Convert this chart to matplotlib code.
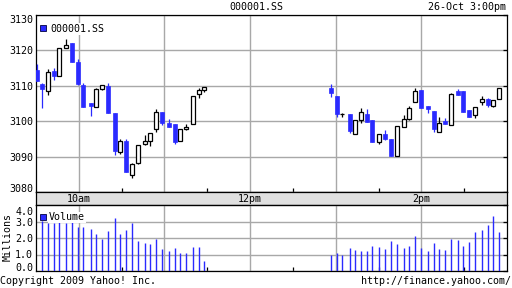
import numpy as np
import matplotlib
matplotlib.use("Agg")
import matplotlib.pyplot as plt
from matplotlib.transforms import ScaledTranslation

# ---------------- data ----------------
# minutes after 9:30 for each candle
minutes_am = [0.7, 4.2, 8.4, 12.6, 16.1, 21.0, 25.2, 29.4, 32.9, 38.5, 42.0, 46.2, 50.4, 55.3,
              58.8, 63.0, 67.2, 71.4, 76.3, 79.8, 84.0, 88.2, 93.1, 97.3, 100.8, 105.0, 109.9,
              114.1, 117.6]
minutes_pm = [206.6, 210.8, 214.3, 219.9, 223.4, 227.6, 231.8, 235.3, 240.2, 244.4, 248.6,
              252.8, 257.7, 261.2, 265.4, 269.6, 274.5, 278.7, 282.2, 286.4, 290.6, 295.5,
              299.0, 303.2, 307.4, 312.3, 316.5, 320.0, 324.2]

open_am = [3114.4, 3110.5, 3108.4, 3114.2, 3112.8, 3120.6, 3122.2, 3116.8, 3110.2, 3105.0,
           3104.1, 3109.2, 3110.0, 3102.2, 3091.4, 3094.4, 3084.9, 3088.2, 3093.6, 3094.5,
           3097.9, 3102.7, 3099.6, 3099.1, 3094.5, 3097.9, 3099.1, 3107.8, 3108.9]
high_am = [3116.1, 3110.7, 3114.7, 3115.0, 3120.6, 3123.2, 3122.2, 3117.6, 3110.7, 3105.2,
           3109.5, 3110.3, 3110.9, 3102.2, 3094.9, 3094.9, 3088.2, 3093.2, 3096.0, 3096.7,
           3103.4, 3102.7, 3100.7, 3099.1, 3097.9, 3099.3, 3107.0, 3109.5, 3109.8]
low_am = [3111.4, 3103.8, 3107.4, 3111.6, 3112.8, 3120.6, 3116.8, 3110.2, 3104.1, 3101.5,
          3104.1, 3108.7, 3102.4, 3090.4, 3090.8, 3085.6, 3084.0, 3087.8, 3093.2, 3093.0,
          3096.9, 3098.8, 3098.4, 3093.5, 3094.5, 3097.6, 3099.1, 3106.6, 3108.3]
close_am = [3111.4, 3109.2, 3113.8, 3112.8, 3120.6, 3121.5, 3116.8, 3110.5, 3104.1, 3104.3,
            3109.0, 3110.3, 3102.4, 3091.5, 3094.5, 3085.6, 3087.8, 3093.2, 3094.5, 3096.7,
            3102.7, 3099.4, 3098.4, 3094.1, 3097.9, 3098.5, 3107.0, 3108.7, 3109.8]

open_pm = [3109.3, 3107.2, 3102.0, 3102.1, 3096.4, 3100.2, 3102.1, 3100.2, 3094.2, 3096.3,
           3094.9, 3090.1, 3098.4, 3100.7, 3105.3, 3108.8, 3104.4, 3103.0, 3097.0, 3100.0,
           3098.9, 3108.6, 3108.5, 3103.1, 3101.7, 3105.3, 3106.2, 3104.4, 3106.2]
high_pm = [3110.5, 3107.2, 3102.4, 3102.1, 3100.2, 3103.7, 3103.4, 3100.2, 3096.5, 3097.4,
           3094.9, 3098.7, 3101.7, 3104.2, 3109.3, 3108.8, 3104.4, 3103.0, 3101.3, 3100.8,
           3108.1, 3109.2, 3108.5, 3103.1, 3104.1, 3107.1, 3106.5, 3105.9, 3109.5]
low_pm = [3106.9, 3101.3, 3101.3, 3096.8, 3096.4, 3099.4, 3099.9, 3094.1, 3093.6, 3094.8,
          3090.1, 3090.1, 3098.4, 3100.2, 3105.3, 3103.6, 3102.4, 3096.9, 3097.0, 3099.1,
          3098.9, 3107.4, 3102.6, 3101.3, 3100.8, 3104.5, 3104.0, 3104.0, 3106.2]
close_pm = [3108.0, 3102.0, 3102.0, 3097.1, 3100.2, 3102.7, 3099.9, 3094.1, 3096.5, 3095.0,
            3090.1, 3098.7, 3100.7, 3103.8, 3108.6, 3103.6, 3103.4, 3097.8, 3099.6, 3099.1,
            3107.8, 3107.4, 3102.6, 3101.3, 3104.1, 3106.2, 3104.6, 3105.9, 3109.5]

# volume in millions (first candle shows no bar)
volume_am = [np.nan, 3.05, 2.89, 2.89, 2.95, 2.89, 2.95, 2.67, 2.67, 2.55, 2.24, 1.96, 2.42,
             3.21, 2.24, 2.48, 2.93, 1.82, 1.70, 1.64, 1.96, 1.33, 1.21, 1.39, 1.09, 1.09,
             1.45, 1.45, 0.61]
volume_pm = [0.97, 1.09, 0.97, 1.39, 1.27, 1.21, 1.21, 1.52, 1.45, 1.33, 1.82, 1.64, 1.39,
             1.52, 2.12, 1.39, 1.21, 1.70, 1.33, 1.27, 1.94, 1.88, 1.52, 1.76, 2.36, 2.48,
             2.79, 3.33, 2.36]

price_ticks = [3080, 3090, 3100, 3110, 3120, 3130]
volume_ticks = [0.0, 1.0, 2.0, 3.0, 4.0]
hour_ticks = [30, 90, 150, 210, 270]          # 10am .. 2pm
half_hour_ticks = [60, 120, 180, 240, 300]
time_labels = {30: "10am", 150: "12pm", 270: "2pm"}

symbol = "000001.SS"
stamp = "26-Oct 3:00pm"

# ---------------- style ----------------
BLUE = "#2a2aff"
GRID = "#a8a8a8"
FONT = "DejaVu Sans Mono"
FS = 7.2
plt.rcParams["font.family"] = [FONT]
plt.rcParams["font.size"] = FS

t = np.array(minutes_am + minutes_pm)
o = np.array(open_am + open_pm)
h = np.array(high_am + high_pm)
l = np.array(low_am + low_pm)
c = np.array(close_am + close_pm)
v = np.array(volume_am + volume_pm)

fig = plt.figure(figsize=(5.12, 2.88), dpi=100)
W, H = 512.0, 288.0
L0, R0 = 36, 507
ax = fig.add_axes([L0 / W, 1 - 192 / H, (R0 - L0) / W, 177 / H])
strip = fig.add_axes([L0 / W, 1 - 205 / H, (R0 - L0) / W, 13 / H])
axv = fig.add_axes([L0 / W, 1 - 271 / H, (R0 - L0) / W, 66 / H])

for a in (ax, strip, axv):
    a.set_xlim(0, 330)
    for s in a.spines.values():
        s.set_color("black")
        s.set_linewidth(0.9)


def clamp_edge_labels(axis_obj, top_shift_px=0.0):
    labels = axis_obj.get_yticklabels()
    labels[0].set_verticalalignment("baseline")
    labels[-1].set_verticalalignment("top")
    if top_shift_px:
        labels[-1].set_transform(labels[-1].get_transform() +
                                 ScaledTranslation(0, -top_shift_px / 100.0,
                                                   fig.dpi_scale_trans))


# ---- price panel ----
ax.set_ylim(3080, 3130)
up = c >= o
col = np.where(up, "black", BLUE)
ax.vlines(t, l, h, colors=col, linewidth=0.9, zorder=3)
ax.bar(t[up], c[up] - o[up], bottom=o[up], width=3.0, color="white",
       edgecolor="black", linewidth=0.9, zorder=4)
ax.bar(t[~up], o[~up] - c[~up], bottom=c[~up], width=3.0, color=BLUE,
       edgecolor=BLUE, linewidth=0.5, zorder=4)

ax.set_yticks(price_ticks)
ax.set_yticklabels([str(p) for p in price_ticks])
ax.set_xticks(hour_ticks)
ax.set_xticks(half_hour_ticks, minor=True)
ax.grid(True, which="major", color=GRID, linewidth=1.0, zorder=0)
ax.set_axisbelow(True)
ax.tick_params(axis="y", left=False, right=True, direction="in", length=3,
               width=0.9, pad=2, labelsize=FS)
ax.tick_params(axis="x", which="both", bottom=True, direction="in", length=3,
               width=0.9, labelbottom=False)
ax.tick_params(axis="x", which="major", length=0)
clamp_edge_labels(ax)

ax.plot([0.0149], [0.925], marker="s", markersize=4.3, color=BLUE,
        markeredgecolor="#000040", markeredgewidth=0.6, transform=ax.transAxes,
        clip_on=False, zorder=6)
ax.text(0.0297, 0.921, symbol, transform=ax.transAxes, ha="left", va="center",
        fontsize=FS, zorder=6,
        bbox=dict(facecolor="white", edgecolor="none", pad=0.5))

# ---- time strip ----
strip.set_facecolor("#e0e0e0")
strip.set_ylim(0, 1)
strip.set_yticks([])
strip.set_xticks([])
for tt, lab in time_labels.items():
    strip.text(tt, 0.45, lab, ha="center", va="center", fontsize=FS)

# ---- volume panel ----
axv.set_ylim(0, 4.0)
axv.vlines(t, 0, v, colors=BLUE, linewidth=1.0, zorder=3)
axv.set_yticks(volume_ticks)
axv.set_yticklabels([f"{x:.1f}" for x in volume_ticks])
axv.set_xticks(hour_ticks)
axv.set_xticks(half_hour_ticks, minor=True)
axv.grid(True, which="major", color=GRID, linewidth=1.0, zorder=0)
axv.set_axisbelow(True)
axv.tick_params(axis="y", left=False, right=True, direction="in", length=3,
                width=0.9, pad=2, labelsize=FS)
axv.tick_params(axis="x", which="both", bottom=True, direction="in", length=3,
                width=0.9, labelbottom=False)
axv.tick_params(axis="x", which="major", length=0)
clamp_edge_labels(axv, top_shift_px=2.0)

axv.plot([0.0149], [0.818], marker="s", markersize=4.3, color=BLUE,
         markeredgecolor="#000040", markeredgewidth=0.6, transform=axv.transAxes,
         clip_on=False, zorder=6)
axv.text(0.0280, 0.814, "Volume", transform=axv.transAxes, ha="left", va="center",
         fontsize=FS, zorder=6,
         bbox=dict(facecolor="white", edgecolor="none", pad=0.5))

fig.text(8 / W, 1 - 237 / H, "Millions", rotation=90, ha="center", va="center",
         fontsize=FS)

# ---- header / footer ----
fig.text(0.5, 1 - 7 / H, symbol, ha="center", va="center", fontsize=FS)
fig.text(506 / W, 1 - 7 / H, stamp, ha="right", va="center", fontsize=FS)
fig.text(0 / W, 1 - 280.5 / H, "Copyright 2009 Yahoo! Inc.", ha="left", va="center",
         fontsize=FS)
fig.text(511 / W, 1 - 280.5 / H, "http://finance.yahoo.com/", ha="right",
         va="center", fontsize=FS)

fig.savefig("out.png", dpi=100, facecolor="white")
